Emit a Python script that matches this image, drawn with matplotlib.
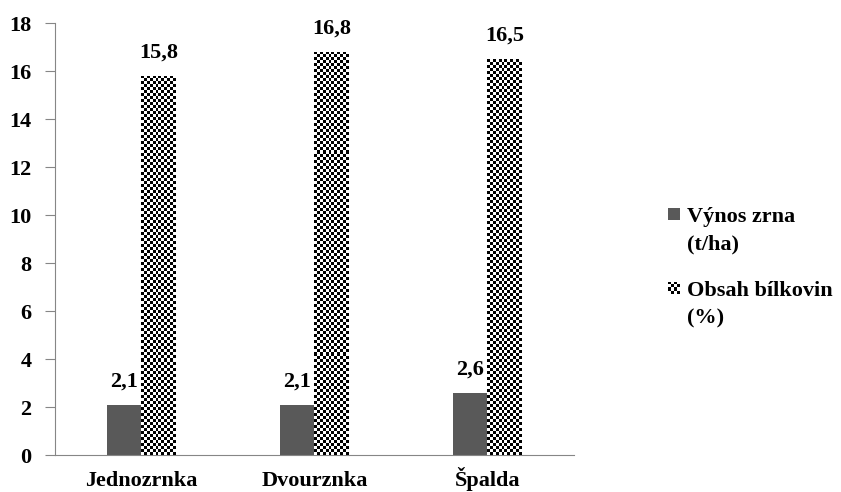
import matplotlib.pyplot as plt
import matplotlib.patches as mpatches
import numpy as np

plt.rcParams['font.family'] = ['Liberation Serif', 'DejaVu Serif']
plt.rcParams['font.weight'] = 'bold'

categories = ['Jednozrnka', 'Dvourznka', 'Špalda']
vynos = [2.1, 2.1, 2.6]
bilkoviny = [15.8, 16.8, 16.5]
labels = ['Výnos zrna\n(t/ha)', 'Obsah bílkovin\n(%)']

W, H = 841, 492
fig = plt.figure(figsize=(W / 100, H / 100), dpi=100)
ax = fig.add_axes([0.0654, 0.0752, 0.617, 0.878])

x = np.arange(len(categories))
w = 0.2
b1 = ax.bar(x - w / 2, vynos, w, color='#595959', zorder=2)
b2 = ax.bar(x + w / 2, bilkoviny, w, color='white', zorder=2)


def checker(n_rows, n_cols):
    return np.indices((n_rows, n_cols)).sum(axis=0) % 2


# checkerboard fill for the protein bars, ~3 px cells
for rect in b2:
    x0, y0 = rect.get_x(), rect.get_y()
    n_rows = int(round(rect.get_height() * 24 / 3))
    im = ax.imshow(checker(n_rows, 12), cmap='gray', interpolation='nearest', aspect='auto',
                   extent=[x0, x0 + rect.get_width(), y0, y0 + rect.get_height()],
                   zorder=3)
    im.set_clip_path(rect)

for bars, vals in [(b1, vynos), (b2, bilkoviny)]:
    for rect, v in zip(bars, vals):
        ax.text(rect.get_x() + rect.get_width() / 2, v + 0.55, f'{v:.1f}'.replace('.', ','),
                ha='center', va='bottom', fontsize=16, fontweight='bold')

ax.set_xlim(-0.5, 2.5)
ax.set_ylim(0, 18)
ax.set_yticks(range(0, 19, 2))
ax.set_xticks(x)
ax.set_xticklabels(categories)
ax.tick_params(axis='x', length=0, labelsize=16, pad=22)
ax.tick_params(axis='y', length=7, color='#868686', labelsize=16, pad=10)
for lab in ax.get_xticklabels():
    lab.set_va('baseline')
for lab in ax.get_xticklabels() + ax.get_yticklabels():
    lab.set_fontweight('bold')
for s in ['top', 'right']:
    ax.spines[s].set_visible(False)
for s in ['left', 'bottom']:
    ax.spines[s].set_color('#868686')

# legend drawn by hand: square marker next to the first line of each label
first_baselines = [222, 296]
for i, (label, base) in enumerate(zip(labels, first_baselines)):
    box = [668 / W, 1 - (base - 2) / H, 12 / W, 12 / H]
    if i == 0:
        fig.patches.append(mpatches.Rectangle(box[:2], box[2], box[3], transform=fig.transFigure,
                                              facecolor='#595959', edgecolor='none'))
    else:
        hax = fig.add_axes(box)
        hax.imshow(checker(4, 4), cmap='gray', interpolation='nearest', aspect='auto')
        hax.axis('off')
    for j, line in enumerate(label.split('\n')):
        fig.text(687 / W, 1 - (base + 27 * j) / H, line, fontsize=16, fontweight='bold',
                 ha='left', va='baseline')

fig.savefig('out.png', dpi=100)
